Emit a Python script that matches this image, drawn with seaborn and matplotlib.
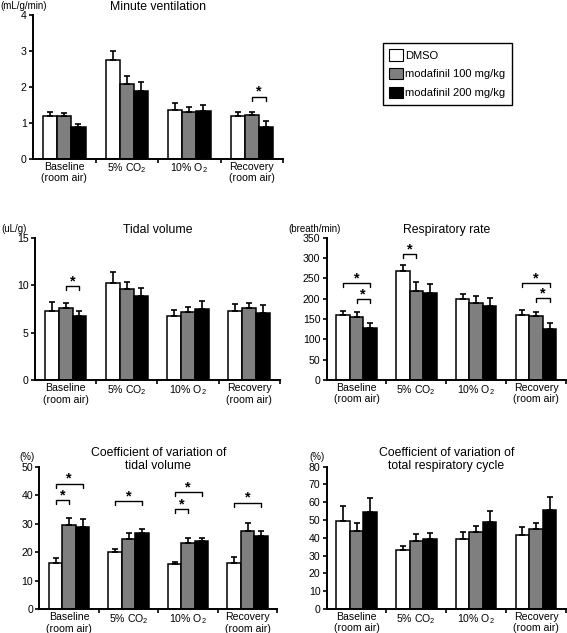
import pandas as pd
import matplotlib.pyplot as plt
import seaborn as sns
from matplotlib.patches import Patch

# conditions and treatment groups
conditions = ["Baseline\n(room air)", "5% CO$_2$", "10% O$_2$", "Recovery\n(room air)"]
treatments = ["DMSO", "modafinil 100 mg/kg", "modafinil 200 mg/kg"]
colors = ["white", "#7f7f7f", "black"]

# minute ventilation (mL/g/min), mean and SEM, one row per treatment
mv_mean = [[1.19, 2.74, 1.37, 1.20], [1.19, 2.09, 1.31, 1.21], [0.88, 1.88, 1.33, 0.89]]
mv_sem = [[0.12, 0.26, 0.17, 0.11], [0.09, 0.20, 0.12, 0.08], [0.10, 0.25, 0.17, 0.15]]
mv_sig = [(3, 1, 2, 1.73)]

# tidal volume (uL/g)
tv_mean = [[7.33, 10.27, 6.80, 7.33], [7.57, 9.57, 7.22, 7.60], [6.76, 8.90, 7.50, 7.12]]
tv_sem = [[0.94, 1.09, 0.60, 0.73], [0.56, 0.77, 0.49, 0.57], [0.53, 0.77, 0.84, 0.80]]
tv_sig = [(0, 1, 2, 9.92)]

# respiratory rate (breath/min)
rr_mean = [[160, 269, 199, 161], [156, 220, 189, 158], [129, 214, 183, 125]]
rr_sem = [[10, 13, 11.5, 12.3], [10, 21, 17, 10], [10, 22, 18, 14]]
rr_sig = [(0, 0, 2, 238), (0, 1, 2, 198), (1, 0, 1, 310), (3, 0, 2, 238), (3, 1, 2, 201)]

# CV of tidal volume (%)
cvtv_mean = [[16.4, 20.0, 15.9, 16.4], [29.4, 24.6, 23.3, 27.5], [28.9, 26.9, 23.9, 25.6]]
cvtv_sem = [[1.5, 1.0, 0.7, 1.9], [2.6, 2.0, 1.7, 2.9], [2.6, 1.4, 1.2, 1.7]]
cvtv_sig = [(0, 0, 1, 38.3), (0, 0, 2, 44.0), (1, 0, 2, 37.9), (2, 0, 1, 35.1), (2, 0, 2, 41.0), (3, 0, 2, 37.4)]

# CV of total respiratory cycle (%)
cvrc_mean = [[49.4, 33.3, 39.1, 41.6], [43.8, 38.2, 43.1, 44.8], [54.7, 39.3, 48.7, 55.6]]
cvrc_sem = [[8.7, 2.3, 4.3, 4.7], [4.7, 3.7, 3.7, 3.7], [7.5, 3.6, 6.4, 7.1]]
cvrc_sig = []

sns.set_style("ticks")
plt.rcParams['font.family'] = ['Liberation Sans', 'DejaVu Sans']
plt.rcParams['mathtext.default'] = 'regular'
for k in ['text.color', 'xtick.color', 'ytick.color', 'axes.edgecolor', 'axes.labelcolor']:
    plt.rcParams[k] = 'black'

fig = plt.figure(figsize=(5.67, 6.33), dpi=100)


def panel(rect, mean, sem, sig, ymax, ystep, title, title_y, unit, unit_xy):
    ax = fig.add_axes(rect)
    rows = []
    for t, name in enumerate(treatments):
        for c, cond in enumerate(conditions):
            rows.append({'cond': cond, 'treat': name, 'val': mean[t][c], 'sem': sem[t][c]})
    df = pd.DataFrame(rows)
    sns.barplot(data=df, x='cond', y='val', hue='treat', palette=colors, edgecolor='black',
                linewidth=1.1, width=0.68, errorbar=None, legend=False, ax=ax)
    bars = list(ax.containers)
    # upper-only error bars at each bar center
    for t, cont in enumerate(bars):
        xs = [p.get_x() + p.get_width() / 2 for p in cont]
        ax.errorbar(xs, mean[t], yerr=[[0] * len(xs), sem[t]], fmt='none', ecolor='black',
                    elinewidth=1.2, capsize=2.5, capthick=1.2, zorder=1)
    # significance brackets
    drop = ymax * 0.028
    for c, a, b, y in sig:
        pa, pb = bars[a][c], bars[b][c]
        xa = pa.get_x() + pa.get_width() / 2
        xb = pb.get_x() + pb.get_width() / 2
        ax.plot([xa, xa, xb, xb], [y - drop, y, y, y - drop], color='black', lw=1.0)
        ax.annotate('*', ((xa + xb) / 2, y), xytext=(0, -1.5), textcoords='offset points',
                    ha='center', va='bottom', fontsize=10.5, fontweight='bold')
    ax.set_xlim(-0.5, 3.5)
    ax.set_ylim(0, ymax)
    ax.set_yticks([ystep * i for i in range(int(round(ymax / ystep)) + 1)])
    ax.set_xlabel('')
    ax.set_ylabel('')
    ax.set_xticks([0.5, 1.5, 2.5, 3.5], minor=True)
    ax.tick_params(axis='x', which='major', length=0, pad=2, labelsize=7.6)
    ax.tick_params(axis='x', which='minor', length=3, width=1.2, direction='out')
    ax.tick_params(axis='y', length=3, width=1.2, pad=1.5, labelsize=7.6)
    for s in ['left', 'bottom']:
        ax.spines[s].set_linewidth(1.4)
    sns.despine(ax=ax)
    ax.text(0.5, title_y, title, transform=ax.transAxes, ha='center', va='center',
            fontsize=8.8, linespacing=1.1)
    fig.text(unit_xy[0], unit_xy[1], unit, ha='left', va='center', fontsize=7)
    return ax


panel([0.0582, 0.749, 0.441, 0.2275], mv_mean, mv_sem, mv_sig, 4, 1,
      "Minute ventilation", 1.058, "(mL/g/min)", (0.0, 0.9905))
panel([0.0617, 0.399, 0.432, 0.2253], tv_mean, tv_sem, tv_sig, 15, 5,
      "Tidal volume", 1.054, "(uL/g)", (0.003, 0.639))
panel([0.576, 0.3997, 0.422, 0.2248], rr_mean, rr_sem, rr_sig, 350, 50,
      "Respiratory rate", 1.054, "(breath/min)", (0.508, 0.639))
panel([0.0693, 0.0374, 0.42, 0.2253], cvtv_mean, cvtv_sem, cvtv_sig, 50, 10,
      "Coefficient of variation of\ntidal volume", 1.053, "(%)", (0.035, 0.2785))
panel([0.576, 0.038, 0.422, 0.2248], cvrc_mean, cvrc_sem, cvrc_sig, 80, 10,
      "Coefficient of variation of\ntotal respiratory cycle", 1.053, "(%)", (0.545, 0.2785))

handles = [Patch(facecolor=c, edgecolor='black', linewidth=0.8) for c in colors]
fig.legend(handles, treatments, loc='upper left', bbox_to_anchor=(382.7 / 567, 1 - 42.7 / 633),
           fontsize=8, fancybox=False, edgecolor='black', framealpha=1,
           handlelength=1.2, handleheight=1.2, handletextpad=0.2, labelspacing=0.65,
           borderpad=0.6, borderaxespad=0)

fig.savefig("out.png", dpi=100)
